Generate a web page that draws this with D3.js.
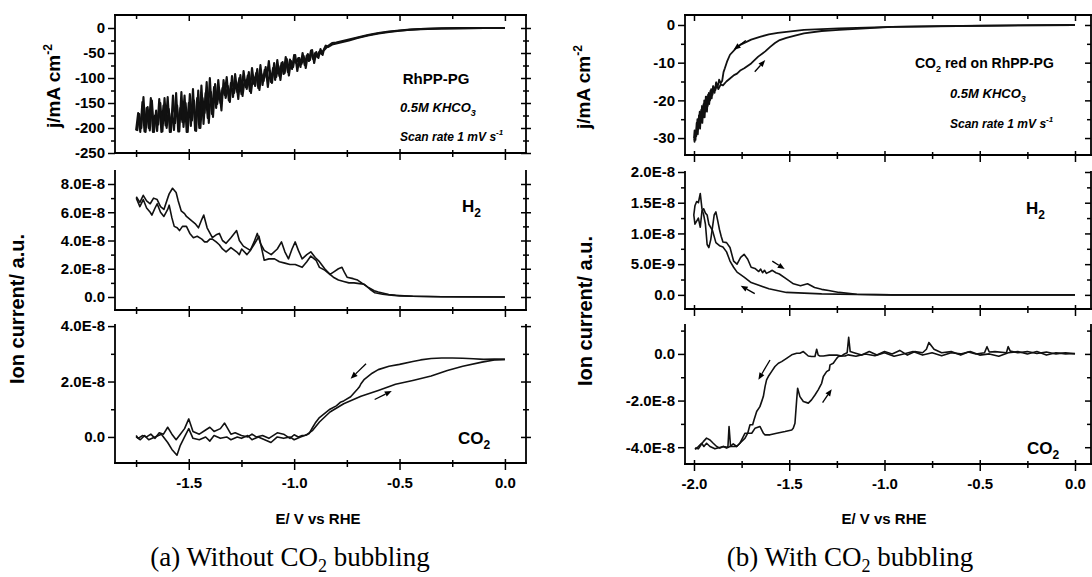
<!DOCTYPE html>
<html><head><meta charset="utf-8">
<script src="https://cdn.jsdelivr.net/npm/d3@7"></script>
<style>
html,body{margin:0;padding:0;background:#fff;}
svg{display:block;}
text{fill:#000;}
</style></head><body>
<svg id="chart" width="1092" height="577"></svg>
<script>
// ---------------- DATA (E in V vs RHE; ion currents in units of 1E-8) ----------------
// (a) current density j / mA cm-2
const aJSmoothFwd = [[0,0],[-0.1,-0.1],[-0.2,-0.3],[-0.3,-0.9],[-0.4,-2.2],[-0.45,-3.5],[-0.5,-5.5],[-0.55,-8],[-0.6,-11],[-0.65,-15],[-0.7,-20],[-0.74,-25],[-0.78,-29],[-0.8,-31],[-0.82,-33],[-0.84,-38],[-0.85,-35]];
const aJNoiseE1 = [-0.86,-0.87,-0.88,-0.89,-0.90,-0.91,-0.92,-0.93,-0.94,-0.95,-0.96,-0.97,-0.98,-0.99,-1.00,-1.01,-1.02,-1.03,-1.04,-1.05,-1.06,-1.07,-1.08,-1.09,-1.10,-1.11,-1.12,-1.13,-1.14,-1.15,-1.16,-1.17,-1.18,-1.19,-1.20,-1.21,-1.22,-1.23,-1.24,-1.25,-1.26,-1.27,-1.28,-1.29,-1.30,-1.31,-1.32,-1.33,-1.34,-1.35,-1.36,-1.37,-1.38,-1.39,-1.40,-1.41,-1.42,-1.43,-1.44,-1.45,-1.46,-1.47,-1.48,-1.49,-1.50,-1.51,-1.52,-1.53,-1.54,-1.55,-1.56,-1.57,-1.58,-1.59,-1.60,-1.61,-1.62,-1.63,-1.64,-1.65,-1.66,-1.67,-1.68,-1.69,-1.70,-1.71,-1.72,-1.73,-1.74,-1.75];
const aJNoise1 = [-44,-52,-47,-58,-50,-62,-45,-66,-55,-74,
  -50,-78,-60,-70,-54,-82,-63,-88,-58,-92,
  -70,-96,-64,-104,-80,-108,-66,-100,-84,-114,
  -74,-120,-90,-112,-80,-126,-95,-118,-86,-132,
  -100,-128,-92,-138,-110,-145,-98,-134,-120,-150,
  -104,-160,-118,-172,-100,-180,-130,-192,-115,-200,
  -140,-205,-122,-196,-150,-208,-135,-188,-160,-207,
  -130,-204,-170,-208,-138,-195,-155,-208,-142,-206,
  -175,-208,-140,-200,-160,-207,-148,-208,-170,-205];
const aJNoiseE2 = [-0.865,-0.875,-0.885,-0.895,-0.905,-0.915,-0.925,-0.935,-0.945,-0.955,-0.965,-0.975,-0.985,-0.995,-1.005,-1.015,-1.025,-1.035,-1.045,-1.055,-1.065,-1.075,-1.085,-1.095,-1.105,-1.115,-1.125,-1.135,-1.145,-1.155,-1.165,-1.175,-1.185,-1.195,-1.205,-1.215,-1.225,-1.235,-1.245,-1.255,-1.265,-1.275,-1.285,-1.295,-1.305,-1.315,-1.325,-1.335,-1.345,-1.355,-1.365,-1.375,-1.385,-1.395,-1.405,-1.415,-1.425,-1.435,-1.445,-1.455,-1.465,-1.475,-1.485,-1.495,-1.505,-1.515,-1.525,-1.535,-1.545,-1.555,-1.565,-1.575,-1.585,-1.595,-1.605,-1.615,-1.625,-1.635,-1.645,-1.655,-1.665,-1.675,-1.685,-1.695,-1.705,-1.715,-1.725,-1.735,-1.745];
const aJNoise2 = [-54,-42,-60,-48,-70,-44,-64,-52,-80,-56,
  -72,-60,-86,-54,-78,-66,-95,-62,-90,-68,
  -104,-76,-98,-70,-110,-86,-118,-78,-106,-92,
  -124,-82,-116,-96,-130,-88,-122,-104,-136,-94,
  -142,-108,-130,-96,-148,-116,-140,-104,-165,-124,
  -152,-112,-178,-128,-190,-108,-170,-140,-200,-125,
  -206,-145,-185,-132,-208,-150,-198,-128,-207,-155,
  -190,-135,-208,-162,-200,-140,-207,-150,-193,-165,
  -208,-145,-205,-158,-208,-138,-200,-172,-206];
const aJSmoothRev = [[-0.86,-45],[-0.84,-36],[-0.82,-30],[-0.8,-29],[-0.78,-27],[-0.75,-24],[-0.7,-19],[-0.65,-14],[-0.6,-10],[-0.55,-7],[-0.5,-5],[-0.45,-3.2],[-0.4,-2],[-0.3,-0.8],[-0.2,-0.3],[-0.1,-0.1],[0,0]];

// (a) H2 ion current
const aH2A = [[-1.749,7.1],[-1.732,6.7],[-1.716,7.2],[-1.700,6.8],[-1.683,6.6],[-1.667,7.0],[-1.650,6.9],[-1.634,6.4],[-1.618,6.2],[-1.600,7.0],[-1.593,7.3],[-1.577,7.7],[-1.560,7.4],[-1.550,6.8],[-1.536,6.1],[-1.520,5.9],[-1.511,5.7],[-1.487,5.4],[-1.470,5.2],[-1.454,4.9],[-1.438,5.5],[-1.429,5.8],[-1.413,4.9],[-1.388,4.2],[-1.370,4.4],[-1.355,4.5],[-1.340,4.0],[-1.323,3.8],[-1.300,4.2],[-1.273,4.7],[-1.260,4.0],[-1.241,3.6],[-1.208,3.3],[-1.190,3.9],[-1.175,4.5],[-1.160,3.8],[-1.142,3.3],[-1.109,3.0],[-1.080,3.4],[-1.060,3.9],[-1.044,3.2],[-1.027,2.7],[-1.010,3.4],[-0.995,3.9],[-0.980,3.3],[-0.962,2.7],[-0.940,3.0],[-0.921,3.2],[-0.900,2.8],[-0.880,2.5],[-0.855,2.0],[-0.830,1.6],[-0.810,1.8],[-0.790,2.0],[-0.773,2.1],[-0.760,1.7],[-0.749,1.4],[-0.720,1.3],[-0.699,1.2],[-0.680,1.0],[-0.650,0.7],[-0.620,0.45],[-0.601,0.35],[-0.551,0.18],[-0.519,0.12],[-0.437,0.05],[-0.3,0.02],[0,0.0]];
const aH2B = [[-1.749,7.0],[-1.732,6.4],[-1.716,6.9],[-1.700,6.3],[-1.683,6.0],[-1.675,5.8],[-1.660,6.3],[-1.650,6.6],[-1.634,6.0],[-1.618,5.7],[-1.600,6.2],[-1.593,6.5],[-1.580,5.6],[-1.569,5.0],[-1.555,4.9],[-1.544,4.7],[-1.530,5.0],[-1.511,5.0],[-1.495,4.5],[-1.478,4.2],[-1.460,4.3],[-1.438,4.1],[-1.425,3.9],[-1.413,3.9],[-1.400,4.1],[-1.388,4.1],[-1.370,3.9],[-1.355,3.7],[-1.340,3.4],[-1.323,3.2],[-1.300,3.5],[-1.273,3.2],[-1.260,3.0],[-1.249,3.4],[-1.224,3.0],[-1.208,3.3],[-1.191,3.7],[-1.167,4.3],[-1.155,3.5],[-1.142,2.6],[-1.120,2.7],[-1.093,2.7],[-1.070,2.5],[-1.044,2.4],[-1.020,2.3],[-0.995,2.3],[-0.962,2.1],[-0.940,2.5],[-0.921,2.9],[-0.896,2.6],[-0.880,2.1],[-0.855,1.9],[-0.830,1.6],[-0.814,1.4],[-0.790,1.2],[-0.765,1.1],[-0.740,1.0],[-0.716,1.0],[-0.690,0.95],[-0.667,0.9],[-0.640,0.55],[-0.617,0.3],[-0.580,0.2],[-0.551,0.15],[-0.500,0.08],[-0.437,0.05],[-0.3,0.02],[0,0.0]];

// (a) CO2 ion current
const aCO2Fwd = [[0,2.8],[-0.05,2.81],[-0.1,2.8],[-0.15,2.82],[-0.2,2.84],[-0.25,2.85],[-0.3,2.85],[-0.35,2.83],[-0.4,2.78],[-0.437,2.72],[-0.5,2.62],[-0.55,2.55],[-0.601,2.43],[-0.63,2.3],[-0.667,2.08],[-0.683,1.92],[-0.691,1.8],[-0.7,1.72],[-0.732,1.45],[-0.765,1.3],[-0.781,1.25],[-0.80,1.12],[-0.830,1.0],[-0.855,0.85],[-0.880,0.7],[-0.90,0.5],[-0.912,0.35],[-0.929,0.12],[-0.945,0.06],[-0.962,0.05],[-0.98,0.0],[-1.0,0.08],[-1.02,-0.05],[-1.05,0.1],[-1.08,0.15],[-1.1,0.05],[-1.12,-0.05],[-1.15,0.05],[-1.18,0.0],[-1.2,0.1],[-1.22,0.0],[-1.25,0.05],[-1.28,0.15],[-1.3,0.1],[-1.33,0.5],[-1.35,0.3],[-1.38,0.2],[-1.4,0.35],[-1.42,0.25],[-1.45,0.1],[-1.48,0.2],[-1.5,0.65],[-1.52,0.3],[-1.54,0.1],[-1.56,-0.1],[-1.58,0.1],[-1.6,0.35],[-1.62,0.1],[-1.64,0.15],[-1.66,-0.05],[-1.68,0.1],[-1.70,0.0],[-1.72,0.05],[-1.74,-0.05],[-1.75,0.05]];
const aCO2Rev = [[-1.75,0.0],[-1.73,-0.1],[-1.71,0.05],[-1.69,-0.1],[-1.66,0.0],[-1.63,0.1],[-1.6,-0.2],[-1.58,-0.45],[-1.556,-0.66],[-1.54,-0.3],[-1.52,0.0],[-1.5,0.3],[-1.48,-0.05],[-1.45,-0.1],[-1.42,0.0],[-1.4,-0.15],[-1.38,0.05],[-1.35,-0.05],[-1.32,0.0],[-1.3,-0.1],[-1.27,0.0],[-1.25,-0.05],[-1.22,0.05],[-1.2,-0.1],[-1.17,0.0],[-1.14,-0.1],[-1.11,-0.2],[-1.08,0.0],[-1.05,-0.05],[-1.02,0.0],[-1.0,-0.1],[-0.97,0.0],[-0.95,0.05],[-0.937,0.1],[-0.912,0.24],[-0.880,0.54],[-0.830,0.9],[-0.765,1.2],[-0.683,1.47],[-0.601,1.68],[-0.519,1.9],[-0.437,2.04],[-0.35,2.2],[-0.273,2.4],[-0.2,2.55],[-0.109,2.7],[-0.05,2.78],[0,2.8]];

// (b) current density j / mA cm-2
const bJFwd = [[0,0],[-0.5,-0.2],[-0.961,-0.5],[-1.1,-0.7],[-1.238,-0.9],[-1.33,-1.1],[-1.423,-1.3],[-1.515,-1.8],[-1.56,-2.1],[-1.607,-2.5],[-1.65,-3.1],[-1.70,-3.9],[-1.73,-4.6],[-1.755,-5.2],[-1.78,-6.2],[-1.811,-7.9],[-1.825,-9.5],[-1.838,-11.5],[-1.845,-12.5],[-1.852,-14.8],[-1.86,-15.5],[-1.868,-14.5],[-1.876,-16.5],[-1.884,-15.2],[-1.892,-18],[-1.9,-16.2],[-1.907,-19.5],[-1.914,-17.5],[-1.92,-21],[-1.926,-18.5],[-1.932,-23],[-1.938,-19],[-1.944,-24.5],[-1.95,-21],[-1.956,-26],[-1.962,-22.5],[-1.968,-27.5],[-1.974,-24],[-1.98,-29],[-1.986,-26],[-1.992,-30.5],[-1.997,-28],[-2.0,-30]];
const bJRev = [[-2.0,-30],[-1.997,-31],[-1.993,-28.5],[-1.988,-29.5],[-1.982,-25],[-1.976,-27.5],[-1.97,-23],[-1.964,-26],[-1.958,-21.5],[-1.952,-24.5],[-1.946,-20],[-1.94,-23],[-1.934,-19],[-1.928,-21.5],[-1.922,-18],[-1.916,-20],[-1.91,-17],[-1.903,-18.5],[-1.895,-16.5],[-1.888,-17.3],[-1.88,-16],[-1.872,-17],[-1.86,-15.8],[-1.848,-16],[-1.83,-15],[-1.811,-14.2],[-1.79,-13.3],[-1.774,-12.9],[-1.755,-12],[-1.736,-11.5],[-1.70,-10.2],[-1.663,-8.4],[-1.626,-7.0],[-1.60,-5.8],[-1.575,-4.8],[-1.55,-4.0],[-1.515,-3.4],[-1.47,-2.8],[-1.423,-2.2],[-1.33,-1.6],[-1.238,-1.3],[-1.1,-0.9],[-0.961,-0.5],[-0.7,-0.3],[-0.4,-0.15],[0,0]];

// (b) H2 ion current
const bH2Fwd = [[0,0],[-0.961,0.0],[-1.145,0.005],[-1.33,0.016],[-1.515,0.04],[-1.607,0.1],[-1.663,0.16],[-1.70,0.2],[-1.737,0.29],[-1.774,0.37],[-1.792,0.45],[-1.811,0.55],[-1.829,0.70],[-1.848,0.78],[-1.866,0.80],[-1.885,0.85],[-1.903,1.05],[-1.922,1.15],[-1.931,1.30],[-1.940,1.33],[-1.949,1.40],[-1.958,1.37],[-1.967,1.10],[-1.977,1.25],[-1.986,1.20],[-1.995,1.15],[-2.001,1.30]];
const bH2Rev = [[-2.001,1.30],[-1.995,1.45],[-1.986,1.52],[-1.977,1.50],[-1.967,1.65],[-1.958,1.40],[-1.949,1.30],[-1.940,1.15],[-1.931,0.82],[-1.922,0.77],[-1.912,0.9],[-1.903,1.1],[-1.894,1.3],[-1.885,1.35],[-1.875,1.2],[-1.866,1.06],[-1.857,0.95],[-1.848,0.86],[-1.829,0.85],[-1.811,0.77],[-1.792,0.55],[-1.774,0.50],[-1.755,0.61],[-1.737,0.66],[-1.718,0.58],[-1.700,0.45],[-1.68,0.43],[-1.66,0.38],[-1.65,0.42],[-1.64,0.36],[-1.63,0.40],[-1.62,0.35],[-1.60,0.38],[-1.589,0.40],[-1.570,0.36],[-1.552,0.34],[-1.515,0.26],[-1.478,0.18],[-1.441,0.15],[-1.404,0.18],[-1.367,0.12],[-1.330,0.09],[-1.293,0.07],[-1.238,0.04],[-1.145,0.01],[-0.961,0.0],[0,0]];

// (b) CO2 ion current
const bCO2Fwd = [[0,0.0],[-0.05,0.05],[-0.1,0.0],[-0.15,0.08],[-0.2,0.02],[-0.25,0.1],[-0.3,0.05],[-0.34,0.12],[-0.351,0.31],[-0.36,0.05],[-0.42,0.1],[-0.45,0.08],[-0.462,0.31],[-0.475,0.05],[-0.52,0.0],[-0.56,0.08],[-0.6,-0.05],[-0.65,0.1],[-0.7,0.05],[-0.74,0.2],[-0.767,0.49],[-0.78,0.2],[-0.8,0.05],[-0.84,0.1],[-0.88,-0.05],[-0.92,0.15],[-0.96,0.0],[-1.0,0.1],[-1.04,-0.05],[-1.08,0.1],[-1.12,-0.05],[-1.16,0.05],[-1.18,0.1],[-1.188,0.71],[-1.196,0.05],[-1.21,0.0],[-1.225,-0.09],[-1.25,-0.05],[-1.29,-0.05],[-1.321,-0.09],[-1.339,-0.09],[-1.348,-0.05],[-1.356,0.2],[-1.365,-0.11],[-1.383,-0.11],[-1.40,-0.09],[-1.426,0.1],[-1.444,0.03],[-1.461,0.03],[-1.487,-0.04],[-1.514,-0.19],[-1.540,-0.33],[-1.557,-0.4],[-1.575,-0.54],[-1.593,-0.76],[-1.610,-0.97],[-1.619,-1.11],[-1.627,-1.4],[-1.636,-1.83],[-1.654,-2.26],[-1.671,-2.47],[-1.685,-2.83],[-1.692,-3.04],[-1.706,-3.04],[-1.718,-3.4],[-1.732,-3.4],[-1.750,-3.69],[-1.759,-3.83],[-1.776,-3.97],[-1.794,-3.86],[-1.811,-3.97],[-1.829,-4.04],[-1.846,-3.97],[-1.864,-4.04],[-1.881,-3.97],[-1.899,-3.83],[-1.916,-3.69],[-1.934,-3.61],[-1.951,-3.76],[-1.969,-3.97],[-1.977,-4.07],[-1.995,-4.04]];
const bCO2Rev = [[-1.995,-4.09],[-1.977,-3.97],[-1.960,-3.83],[-1.948,-3.97],[-1.934,-3.83],[-1.916,-3.97],[-1.890,-4.07],[-1.846,-3.97],[-1.822,-4.0],[-1.816,-3.11],[-1.808,-3.97],[-1.776,-3.97],[-1.759,-3.83],[-1.732,-3.61],[-1.718,-3.4],[-1.697,-3.4],[-1.680,-3.19],[-1.654,-3.11],[-1.636,-3.4],[-1.627,-3.47],[-1.601,-3.47],[-1.566,-3.4],[-1.522,-3.33],[-1.487,-3.26],[-1.479,-3.19],[-1.470,-2.97],[-1.461,-1.97],[-1.456,-1.47],[-1.444,-1.83],[-1.426,-2.04],[-1.400,-2.11],[-1.383,-1.97],[-1.365,-1.76],[-1.348,-1.54],[-1.330,-1.26],[-1.321,-0.97],[-1.304,-0.76],[-1.290,-0.69],[-1.286,-0.47],[-1.269,-0.4],[-1.251,-0.19],[-1.242,-0.11],[-1.225,-0.09],[-1.207,-0.09],[-1.190,-0.04],[-1.15,-0.1],[-1.1,0.0],[-1.05,-0.08],[-1.0,0.05],[-0.95,-0.1],[-0.9,0.0],[-0.85,0.1],[-0.8,-0.05],[-0.75,0.05],[-0.7,-0.08],[-0.65,0.05],[-0.6,0.0],[-0.55,0.1],[-0.5,-0.05],[-0.45,0.0],[-0.4,-0.1],[-0.35,0.05],[-0.3,0.1],[-0.25,0.0],[-0.2,0.1],[-0.15,-0.05],[-0.1,0.05],[-0.05,0.0],[0,0.02]];

// scan-direction arrows [E1, v1, E2, v2]
const aCO2Arrows = [[-0.659,2.64,-0.732,2.10],[-0.618,1.35,-0.537,1.66]];
const bJArrows = [[-1.728,-4.1,-1.792,-6.6],[-1.681,-12.4,-1.626,-9.3]];
const bH2Arrows = [[-1.589,0.55,-1.524,0.42],[-1.681,0.02,-1.755,0.15]];
const bCO2Arrows = [[-1.601,-0.26,-1.662,-1.11],[-1.325,-2.09,-1.277,-1.51]];

// ticks & labels
const aXMajor = [-1.5,-1.0,-0.5,0.0], aXMinor = [-1.75,-1.25,-0.75,-0.25];
const aXLabels = ["-1.5","-1.0","-0.5","0.0"];
const bXMajor = [-2.0,-1.5,-1.0,-0.5,0.0], bXMinor = [-1.75,-1.25,-0.75,-0.25];
const bXLabels = ["-2.0","-1.5","-1.0","-0.5","0.0"];
const aJTicks = [0,-50,-100,-150,-200,-250], aJMinor = [-25,-75,-125,-175,-225];
const aJLabels = ["0","-50","-100","-150","-200","-250"];
const aH2Ticks = [0,2,4,6,8], aH2Minor = [1,3,5,7];
const aH2Labels = ["0.0","2.0E-8","4.0E-8","6.0E-8","8.0E-8"];
const aCO2Ticks = [0,2,4], aCO2Minor = [1,3];
const aCO2Labels = ["0.0","2.0E-8","4.0E-8"];
const bJTicks = [0,-10,-20,-30], bJMinor = [-5,-15,-25];
const bJLabels = ["0","-10","-20","-30"];
const bH2Ticks = [0,0.5,1.0,1.5,2.0], bH2Minor = [0.25,0.75,1.25,1.75];
const bH2Labels = ["0.0","5.0E-9","1.0E-8","1.5E-8","2.0E-8"];
const bCO2Ticks = [0,-2,-4], bCO2Minor = [1,-1,-3];
const bCO2Labels = ["0.0","-2.0E-8","-4.0E-8"];

// ---------------- DRAWING ----------------
const svg = d3.select("#chart");
const FONT = "'Liberation Sans', Arial, sans-serif";

function styleAx(sel, size){
  sel.attr("font-size", size || 15).style("font-family", FONT).style("font-weight","bold");
  sel.select(".domain").remove();
  sel.selectAll(".tick line").attr("stroke","#000").attr("stroke-width",1.5);
}

function drawPanel(c){
  const x = d3.scaleLinear().domain(c.xDom).range([c.x0, c.x1]);
  const y = d3.scaleLinear().domain(c.yDom).range([c.y1, c.y0]);
  const g = svg.append("g");
  const line = d3.line().x(d => x(d[0])).y(d => y(d[1]));
  c.curves.forEach(cv => g.append("path").attr("d", line(cv)).attr("fill","none")
      .attr("stroke","#111").attr("stroke-width",c.lw || 1.6).attr("stroke-linejoin","round"));

  const la = g.append("g").attr("transform",`translate(${c.x0},0)`)
    .call(d3.axisLeft(y).tickValues(c.yMaj).tickFormat((d,i)=>c.yLab[i]).tickSize(7).tickPadding(3));
  styleAx(la);
  const lm = g.append("g").attr("transform",`translate(${c.x0},0)`)
    .call(d3.axisLeft(y).tickValues(c.yMin).tickFormat("").tickSize(4));
  styleAx(lm);
  const ra = g.append("g").attr("transform",`translate(${c.x1},0)`)
    .call(d3.axisRight(y).tickValues(c.yMaj).tickFormat("").tickSize(5));
  styleAx(ra);
  const rm = g.append("g").attr("transform",`translate(${c.x1},0)`)
    .call(d3.axisRight(y).tickValues(c.yMin).tickFormat("").tickSize(3));
  styleAx(rm);
  if (c.rightIn){
    ra.selectAll(".tick line").attr("x1",-6).attr("x2",0);
    rm.selectAll(".tick line").attr("x1",-4).attr("x2",0);
  } else {
    ra.selectAll(".tick line").attr("x1",-5);
    rm.selectAll(".tick line").attr("x1",-3);
  }
  const ba = g.append("g").attr("transform",`translate(0,${c.y1})`)
    .call(d3.axisBottom(x).tickValues(c.xMaj).tickFormat((d,i)=> c.xLab ? c.xLab[i] : "").tickSize(7).tickPadding(7));
  styleAx(ba);
  ba.selectAll(".tick line").attr("y1",-4);
  const bm = g.append("g").attr("transform",`translate(0,${c.y1})`)
    .call(d3.axisBottom(x).tickValues(c.xMin).tickFormat("").tickSize(4));
  styleAx(bm);
  bm.selectAll(".tick line").attr("y1",-3);
  if (c.top){
    const ta = g.append("g").attr("transform",`translate(0,${c.y0})`)
      .call(d3.axisTop(x).tickValues(c.xMaj).tickFormat("").tickSize(-6));
    styleAx(ta);
    const tm = g.append("g").attr("transform",`translate(0,${c.y0})`)
      .call(d3.axisTop(x).tickValues(c.xMin).tickFormat("").tickSize(-4));
    styleAx(tm);
  }
  const fr = [[c.x0,c.y0,c.x0,c.y1],[c.x1,c.y0,c.x1,c.y1],[c.x0,c.y1,c.x1,c.y1]];
  if (c.top) fr.push([c.x0,c.y0,c.x1,c.y0]);
  fr.forEach(f => g.append("line").attr("x1",f[0]).attr("y1",f[1]).attr("x2",f[2]).attr("y2",f[3])
      .attr("stroke","#000").attr("stroke-width",1.8).attr("stroke-linecap","square"));
  (c.arrows || []).forEach(a => {
    const x1 = x(a[0]), y1 = y(a[1]), x2 = x(a[2]), y2 = y(a[3]);
    const ang = Math.atan2(y2-y1, x2-x1), L = 7, W = 2.8;
    const bx = x2 - L*Math.cos(ang), by = y2 - L*Math.sin(ang);
    g.append("line").attr("x1",x1).attr("y1",y1).attr("x2",bx).attr("y2",by)
      .attr("stroke","#000").attr("stroke-width",1.3);
    g.append("path").attr("d",`M${x2},${y2}L${bx - W*Math.sin(ang)},${by + W*Math.cos(ang)}L${bx + W*Math.sin(ang)},${by - W*Math.cos(ang)}Z`)
      .attr("fill","#000");
  });
  return {x, y, g};
}

const aXDom = [-1.85, 0.1], bXDom = [-2.0472, 0.084];
const LX0 = 115, LX1 = 526, RX0 = 685, RX1 = 1091;

drawPanel({x0:LX0,x1:LX1,y0:15,y1:153,xDom:aXDom,yDom:[-250,26],xMaj:aXMajor,xMin:aXMinor,xLab:null,
  yMaj:aJTicks,yMin:aJMinor,yLab:aJLabels,top:true,lw:2.1,
  curves:[aJSmoothFwd.concat(d3.zip(aJNoiseE1,aJNoise1)), d3.zip(aJNoiseE2,aJNoise2).reverse().concat(aJSmoothRev)]});
drawPanel({x0:LX0,x1:LX1,y0:171,y1:310,xDom:aXDom,yDom:[-0.92,8.92],xMaj:aXMajor,xMin:aXMinor,xLab:null,
  yMaj:aH2Ticks,yMin:aH2Minor,yLab:aH2Labels,top:false,curves:[aH2A,aH2B]});
drawPanel({x0:LX0,x1:LX1,y0:325,y1:463,xDom:aXDom,yDom:[-0.94,4.04],xMaj:aXMajor,xMin:aXMinor,xLab:aXLabels,
  yMaj:aCO2Ticks,yMin:aCO2Minor,yLab:aCO2Labels,top:false,curves:[aCO2Fwd,aCO2Rev],arrows:aCO2Arrows});

drawPanel({x0:RX0,x1:RX1,y0:15,y1:155,xDom:bXDom,yDom:[-34.5,2.65],xMaj:bXMajor,xMin:bXMinor,xLab:null,
  yMaj:bJTicks,yMin:bJMinor,yLab:bJLabels,top:true,rightIn:true,lw:1.8,curves:[bJFwd,bJRev],arrows:bJArrows});
drawPanel({x0:RX0,x1:RX1,y0:172,y1:309,xDom:bXDom,yDom:[-0.23,2.0],xMaj:bXMajor,xMin:bXMinor,xLab:null,
  yMaj:bH2Ticks,yMin:bH2Minor,yLab:bH2Labels,top:false,rightIn:true,curves:[bH2Fwd,bH2Rev],arrows:bH2Arrows});
drawPanel({x0:RX0,x1:RX1,y0:325,y1:464,xDom:bXDom,yDom:[-4.72,1.24],xMaj:bXMajor,xMin:bXMinor,xLab:bXLabels,
  yMaj:bCO2Ticks,yMin:bCO2Minor,yLab:bCO2Labels,top:false,rightIn:true,curves:[bCO2Fwd,bCO2Rev],arrows:bCO2Arrows});

// ---------------- TEXT ----------------
function txt(x, y, parts, opt){
  opt = opt || {};
  const t = svg.append("text").attr("x",x).attr("y",y)
    .attr("font-size",opt.size||15).attr("text-anchor",opt.anchor||"start")
    .style("font-style",opt.italic?"italic":"normal")
    .style("font-family", opt.family || FONT)
    .style("font-weight", opt.weight || (opt.family ? "normal" : "bold"));
  if (opt.rotate) t.attr("transform",`rotate(-90,${x},${y})`);
  parts.forEach(p => {
    const s = t.append("tspan").text(p[0]);
    if (p[1]) s.attr("dy",p[1]);
    if (p[2]) s.attr("font-size",p[2]);
  });
  return t;
}

// y-axis titles
txt(60, 86, [["j/mA cm"],["-2","-8",12]], {size:19, anchor:"middle", rotate:true});
txt(24, 309, [["Ion current/ a.u."]], {size:20, anchor:"middle", rotate:true});
txt(590, 87, [["j/mA cm"],["-2","-8",12]], {size:19, anchor:"middle", rotate:true});
txt(592, 311, [["Ion current/ a.u."]], {size:20, anchor:"middle", rotate:true});

// x-axis titles
txt(318, 524, [["E/ V vs RHE"]], {size:15, anchor:"middle"});
txt(884, 524, [["E/ V vs RHE"]], {size:15, anchor:"middle"});

// annotations (a)
txt(436, 84, [["RhPP-PG"]], {size:15, anchor:"middle"});
txt(400, 112, [["0.5M KHCO"],["3","4",9]], {size:13, italic:true});
txt(400, 141, [["Scan rate 1 mV s"],["-1","-6",8]], {size:12, italic:true});
txt(462, 212, [["H"],["2","5",12]], {size:17});
txt(458, 444, [["CO"],["2","5",12]], {size:17});
// annotations (b)
txt(915, 68, [["CO"],["2","4",9],[" red on RhPP-PG","-4"]], {size:14});
txt(950, 98, [["0.5M KHCO"],["3","4",9]], {size:13, italic:true});
txt(950, 128, [["Scan rate 1 mV s"],["-1","-6",8]], {size:12, italic:true});
txt(1026, 214, [["H"],["2","5",12]], {size:17});
txt(1027, 454, [["CO"],["2","5",12]], {size:17});

// captions
const CAP = "'Liberation Serif', 'Times New Roman', serif";
txt(290, 566, [["(a) Without CO"],["2","6",18],[" bubbling","-6"]], {size:27, anchor:"middle", family:CAP});
txt(850, 566, [["(b) With CO"],["2","6",18],[" bubbling","-6"]], {size:27, anchor:"middle", family:CAP});
</script>
</body></html>
